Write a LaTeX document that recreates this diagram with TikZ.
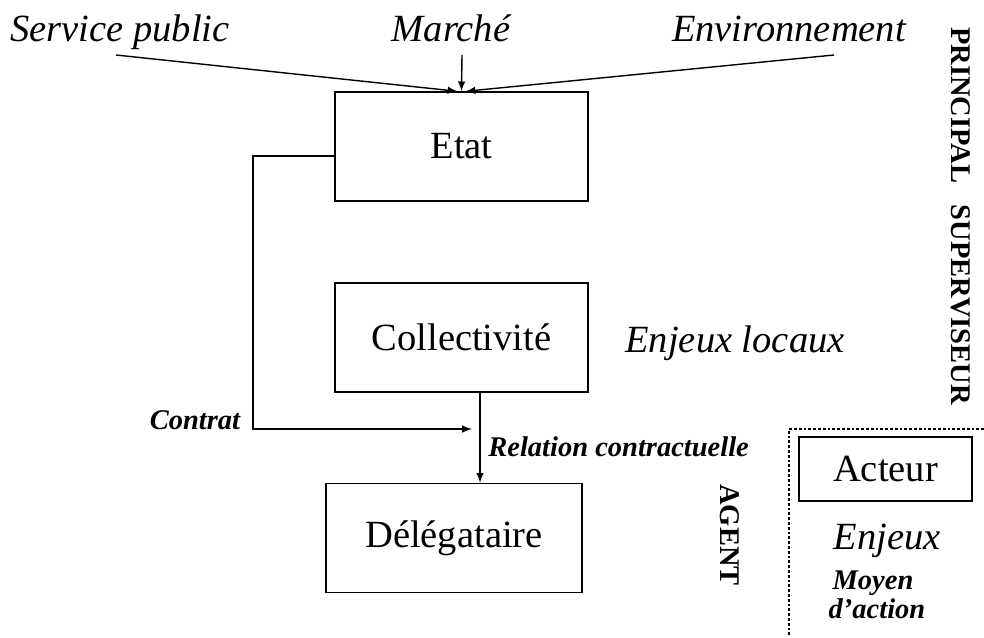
\documentclass[tikz,border=0pt]{standalone}
\usepackage{fontspec}
\setmainfont{Liberation Serif}
\begin{document}
\begin{tikzpicture}[x = 0.5pt, y = -0.5pt, >=latex, line width = 0.7pt,
  boite/.style = {draw, minimum width = 126.5pt, minimum height = 54.5pt, font = \fontsize{19.25}{23}\selectfont},
  grand/.style = {font = \fontsize{19.25}{23}\selectfont\itshape},
  petit/.style = {font = \fontsize{14.25}{17}\selectfont\bfseries\itshape},
  vertical/.style = {rotate = -90, font = \fontsize{14.25}{17}\selectfont\bfseries}]
\useasboundingbox (0,0) rectangle (984,637);
\node [boite] (etat) at (461.5,146.5) {Etat};
\node [boite] (coll) at (461.5,337.5) {Collectivit\'e};
\node [boite, minimum width = 128pt] (deleg) at (454,538) {D\'el\'egataire};
\node [grand, anchor = base] (service) at (120,41) {Service public};
\node [grand, anchor = base] (marche) at (451,41) {March\'e};
\node [grand, anchor = base] (environ) at (789,41) {Environnement};
\node [grand, anchor = base] (locaux) at (735,352) {Enjeux locaux};
\node [petit, anchor = base] (contrat) at (195,429) {Contrat};
\node [petit, anchor = base west] (relation) at (481,456) {Relation contractuelle};
\node [vertical] (principal) at (961,216) {PRINCIPAL\ \ \ SUPERVISEUR};
\node [vertical] (agent) at (730,535) {AGENT};
\node [draw, minimum width = 86.5pt, minimum height = 32pt, font = \fontsize{19.25}{23}\selectfont] (acteur) at (885.5,469) {Acteur};
\node [grand, anchor = base] (enjeux) at (887,549) {Enjeux};
\node [petit, anchor = base] (moyen) at (873,589) {Moyen};
\node [petit, anchor = base] (action) at (877,618) {d'action};
% fleches vers Etat
\coordinate (s1) at (116,55);
\coordinate (m1) at (462,55);
\coordinate (e1) at (834,55);
\draw [->] (s1) -- ([xshift = -2]etat.north);
\draw [->] (m1) -- (etat.north);
\draw [->] (e1) -- ([xshift = 2]etat.north);
% contrat
\coordinate (c1) at (253,156);
\coordinate (c2) at (253,429);
\coordinate (c3) at (472,429);
\draw [->] (etat.west |- c1) -- (c1) -- (c2) -- (c3);
% relation contractuelle
\coordinate (r1) at (480,0);
\draw [->] (coll.south -| r1) -- (deleg.north -| r1);
% cadre acteur
\coordinate (d1) at (789,429);
\draw [densely dotted, line width = 1.4pt] (984,429) -- (d1) -- (789,637);
\end{tikzpicture}
\end{document}
